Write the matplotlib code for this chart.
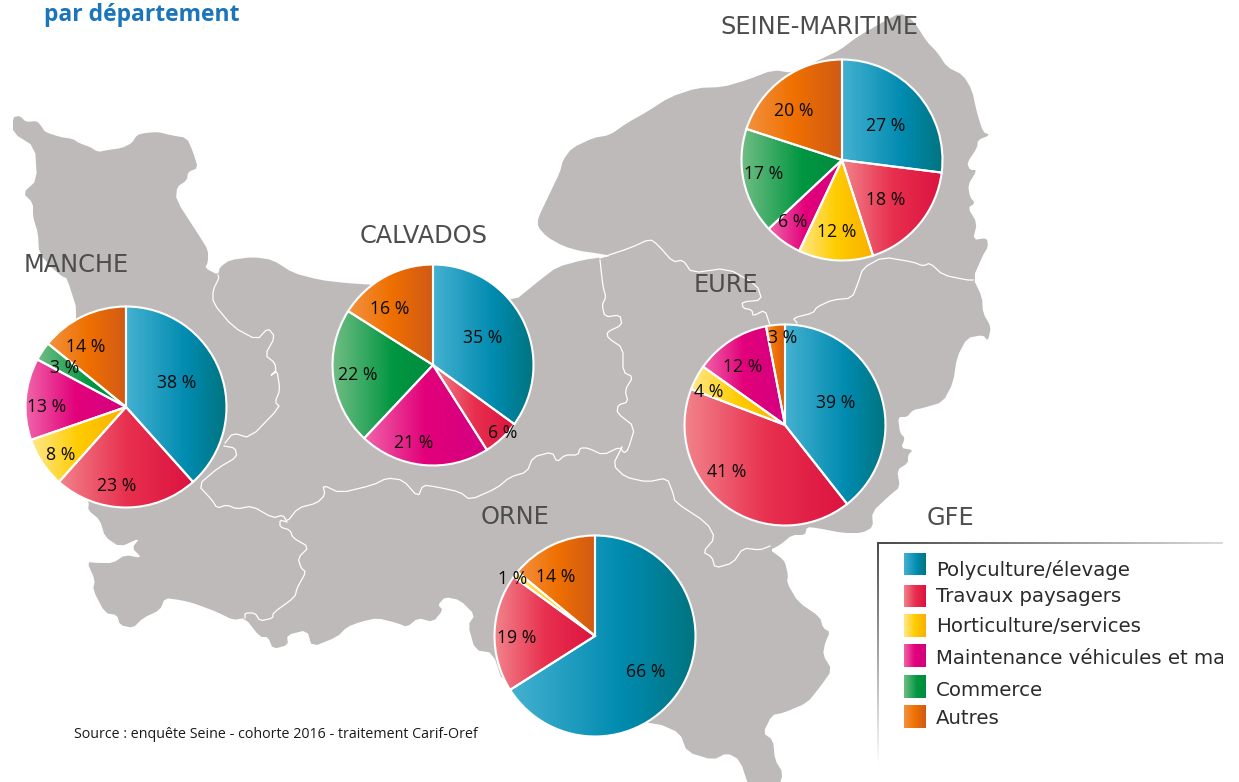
import numpy as np
import matplotlib
matplotlib.use("Agg")
import matplotlib.pyplot as plt
from matplotlib.colors import LinearSegmentedColormap
from matplotlib.transforms import Bbox, TransformedBbox

W, H = 1239, 782
FONT = "Open Sans"
WIDE = "DejaVu Sans"

# ---------- data ----------
categories = ["Polyculture/élevage", "Travaux paysagers", "Horticulture/services",
              "Maintenance véhicules et matériels", "Commerce", "Autres"]
manche = [38, 23, 8, 13, 3, 14]
calvados = [35, 6, 0, 21, 22, 16]
seine_maritime = [27, 18, 12, 6, 17, 20]
eure = [39, 41, 4, 12, 0, 3]
orne = [66, 19, 1, 0, 0, 14]
dept_names = ["MANCHE", "CALVADOS", "SEINE-MARITIME", "EURE", "ORNE"]
dept_values = [manche, calvados, seine_maritime, eure, orne]

# ---------- layout ----------
pie_centers = [(126, 407), (433, 365), (842, 160), (785, 425), (595, 636)]
pie_radius = 100.5
name_pos = [(76, 265), (424, 236), (819.5, 27), (726, 285), (515, 517)]
label_pos = [
    [(177, 383), (117, 486), (61, 455), (47, 407), (65, 368), (86, 347)],
    [(483, 338), (503, 433), (414, 443), (358, 375), (390, 309)],
    [(886, 126), (886, 200), (837, 232), (793, 222), (764, 174), (794, 111)],
    [(836, 403), (727, 472), (709, 392), (743, 367), (783, 338)],
    [(646, 672), (517, 638), (513, 579), (556, 577)],
]
gradients = [
    [(0, "#45b1d1"), (0.6, "#008bb0"), (1, "#00747f")],
    [(0, "#f2838a"), (0.5, "#e8304f"), (1, "#dc1240")],
    [(0, "#ffe88a"), (0.5, "#ffcc00"), (1, "#f9b000")],
    [(0, "#f064a9"), (0.5, "#e2007a"), (1, "#d40080")],
    [(0, "#70bd84"), (0.6, "#009640"), (1, "#008c40")],
    [(0, "#f39240"), (0.5, "#ef7000"), (1, "#d05a16")],
]
cmaps = [LinearSegmentedColormap.from_list(f"g{i}", g) for i, g in enumerate(gradients)]
swatch_y = [(553, 575), (585, 607), (614, 637), (644, 667), (675, 698), (705, 728)]
legend_text_y = [570, 597, 626, 659, 690, 719]

map_outline = [
    (13, 117), (20, 116), (26, 122), (37, 121), (42, 127), (45, 132), (60, 137), (73, 139), (79, 143),
    (90, 147), (98, 152), (108, 150), (122, 148), (132, 143), (137, 135), (145, 133), (158, 132),
    (170, 135), (187, 138), (193, 152), (198, 168), (188, 172), (187, 180), (177, 187), (176, 200),
    (200, 237), (208, 250), (208, 262), (205, 268), (218, 275), (220, 267), (230, 260), (253, 257),
    (273, 260), (293, 273), (320, 280), (345, 283), (375, 285), (440, 300), (513, 302), (540, 280),
    (557, 267), (583, 260), (597, 258), (612, 256), (595, 253), (580, 251), (563, 246), (547, 237),
    (538, 227), (538, 218), (550, 193), (560, 172), (563, 160), (572, 148), (593, 138), (610, 135),
    (627, 123), (645, 113), (670, 97), (697, 88), (723, 87), (747, 80), (773, 70), (793, 73), (823, 58),
    (840, 50), (857, 37), (883, 22), (900, 13), (913, 20), (927, 42), (937, 52), (947, 67), (963, 75),
    (972, 90), (977, 113), (983, 132), (990, 135), (978, 140), (977, 148), (967, 163), (970, 170),
    (977, 170), (968, 185), (970, 197), (975, 203), (968, 208), (977, 223), (973, 240), (987, 238),
    (988, 247), (983, 255), (973, 278), (982, 297), (983, 313), (991, 327), (988, 341), (983, 335),
    (967, 338), (957, 357), (953, 383), (943, 402), (923, 408), (913, 410), (907, 417), (898, 417),
    (900, 433), (905, 438), (901, 448), (913, 450), (908, 455), (908, 463), (897, 470), (900, 487),
    (890, 495), (872, 512), (873, 527), (862, 533), (843, 533), (817, 528), (807, 527), (805, 535),
    (792, 535), (780, 545), (770, 550), (780, 557), (785, 562), (788, 575), (787, 583), (798, 602),
    (820, 617), (823, 628), (830, 632), (825, 643), (823, 655), (832, 670), (820, 687), (807, 703),
    (783, 713), (772, 715), (763, 733), (773, 740), (775, 760), (783, 773), (778, 790), (750, 790),
    (740, 760), (727, 753), (713, 760), (687, 752), (680, 733), (657, 723), (600, 720), (503, 683),
    (493, 653), (475, 650), (468, 625), (475, 615), (460, 600), (445, 597), (438, 605), (443, 610),
    (433, 622), (418, 618), (407, 627), (397, 623), (377, 618), (360, 622), (347, 627), (337, 637),
    (312, 647), (307, 630), (287, 635), (288, 645), (273, 649), (268, 637), (260, 637), (245, 618),
    (233, 620), (217, 612), (193, 603), (180, 600), (165, 598), (160, 610), (143, 618), (133, 628),
    (120, 625), (117, 615), (105, 613), (93, 590), (95, 580), (87, 562), (98, 563), (113, 563),
    (125, 555), (142, 558), (132, 548), (140, 538), (120, 547), (105, 537), (100, 520), (88, 510),
    (89, 503), (70, 420), (78, 313), (67, 278), (63, 277), (52, 268), (39, 253), (38, 233), (33, 217),
    (33, 203), (23, 193), (37, 180), (35, 147), (13, 133),
]
borders = [
    [(600, 258), (630, 248), (650, 239), (658, 245), (673, 262), (683, 260), (692, 273), (727, 268),
     (757, 285), (762, 300), (742, 302), (743, 308), (752, 310), (753, 316), (765, 310), (770, 325)],
    [(797, 323), (793, 318), (813, 313), (817, 307), (832, 300), (852, 298), (858, 283), (863, 268),
     (883, 257), (913, 262), (923, 266), (930, 263), (943, 275), (967, 280), (973, 280)],
    [(600, 260), (603, 287), (606, 297), (602, 305), (605, 317), (620, 315), (622, 325), (607, 332),
     (608, 338), (623, 348), (623, 372), (633, 377), (625, 390), (628, 402), (618, 405), (617, 413),
     (635, 427), (628, 450), (624, 453), (620, 447), (603, 455), (588, 448), (580, 448), (578, 455),
     (565, 455), (557, 462), (552, 452), (533, 457), (527, 472), (510, 477), (497, 488), (470, 500),
     (460, 492), (437, 487), (423, 485), (418, 497), (403, 480), (387, 478), (373, 485), (340, 493),
     (323, 485), (325, 495), (317, 503), (298, 508), (287, 522), (283, 515), (273, 518), (252, 506),
     (237, 509), (227, 505), (217, 508), (212, 500), (198, 485), (218, 468), (237, 457), (235, 448),
     (224, 446)],
    [(225, 443), (233, 433), (250, 438), (280, 407), (275, 402), (280, 390), (277, 370), (270, 376),
     (276, 372), (275, 363), (265, 355), (275, 337), (268, 328), (257, 340), (233, 327), (213, 303),
     (213, 290), (219, 278), (218, 275)],
    [(287, 522), (280, 520), (280, 527), (290, 530), (293, 538), (309, 547), (298, 558), (301, 568),
     (306, 572), (297, 588), (295, 597), (273, 613), (273, 618), (260, 621), (255, 613), (245, 613),
     (245, 618)],
    [(622, 447), (613, 465), (625, 477), (647, 482), (667, 478), (673, 493), (675, 502), (707, 523),
     (715, 538), (703, 552), (712, 557), (715, 568), (733, 563), (743, 548), (760, 550), (770, 546)],
]


def fy(y):
    return H - y


def chaikin(points, closed=False, rounds=1):
    """Round the corners of a traced coastline or boundary."""
    p = np.asarray(points, float)
    for _ in range(rounds):
        a = p if closed else p[:-1]
        b = np.roll(p, -1, axis=0) if closed else p[1:]
        q = np.empty((2 * len(a), 2))
        q[0::2] = 0.8 * a + 0.2 * b
        q[1::2] = 0.2 * a + 0.8 * b
        p = q if closed else np.vstack([p[0], q, p[-1]])
    return p


fig = plt.figure(figsize=(W / 100, H / 100), dpi=100, facecolor="white")
ax = fig.add_axes([0, 0, 1, 1])

# ---------- map ----------
o = chaikin(map_outline, closed=True)
ax.fill(o[:, 0], fy(o[:, 1]), color="#bdbab9", lw=0, zorder=1)
for line in borders:
    b = chaikin(line)
    ax.plot(b[:, 0], fy(b[:, 1]), color="white", lw=0.9, solid_joinstyle="round", zorder=2)

ramp = np.linspace(0, 1, 256).reshape(1, -1)

# ---------- pies ----------
for name, values, center, npos, lpos in zip(dept_names, dept_values, pie_centers, name_pos, label_pos):
    idx = [i for i, v in enumerate(values) if v > 0]
    vals = [values[i] for i in idx]
    wedges, _ = ax.pie(vals, startangle=90, counterclock=False, radius=pie_radius,
                       center=(center[0], fy(center[1])), frame=True,
                       wedgeprops=dict(facecolor="none", edgecolor="white", linewidth=1.5, zorder=4))
    for w, i, v, p in zip(wedges, idx, vals, lpos):
        e = w.get_path().get_extents()
        im = ax.imshow(ramp, cmap=cmaps[i], extent=(e.x0, e.x1, e.y0, e.y1), aspect="auto", zorder=3)
        im.set_clip_path(w)
        ax.text(p[0], fy(p[1]), f"{v} %", ha="center", va="center", fontsize=12.7,
                family=FONT, color="#0a0a0a", zorder=6)
    ax.text(npos[0], fy(npos[1]), name, ha="center", va="center", fontsize=17.3,
            family=WIDE, color="#4d4d4d", zorder=6)

# ---------- legend ----------
ax.text(950, fy(518), "GFE", ha="center", va="center", fontsize=17.3, family=WIDE, color="#4d4d4d", zorder=6)
for cat, cm, (y0, y1), ty in zip(categories, cmaps, swatch_y, legend_text_y):
    ax.imshow(ramp, cmap=cm, extent=(904, 926, fy(y1), fy(y0)), aspect="auto", zorder=5)
    t = ax.text(936, fy(ty), cat, ha="left", va="center", fontsize=14.2, family=WIDE, color="#2b2b2b", zorder=6)
    t.set_clip_box(TransformedBbox(Bbox([[930, 0], [1223, H]]), ax.transData))
    t.set_clip_on(True)

rgba_h = np.zeros((1, 256, 4))
rgba_h[..., :3] = 0.29
rgba_h[0, :, 3] = np.linspace(1, 0.2, 256)
ax.imshow(rgba_h, extent=(877, 1223, fy(544), fy(542)), aspect="auto", zorder=5)
rgba_v = np.zeros((256, 1, 4))
rgba_v[..., :3] = 0.29
rgba_v[:, 0, 3] = np.linspace(1, 0, 256)
ax.imshow(rgba_v, extent=(877, 879, fy(765), fy(542)), aspect="auto", zorder=5)

# ---------- texts ----------
ax.text(44, fy(15), "par département", ha="left", va="center", fontsize=16.5, fontweight="bold",
        family=FONT, color="#1a75bb", zorder=6)
ax.text(74, fy(735), "Source : enquête Seine - cohorte 2016 - traitement Carif-Oref", ha="left", va="center",
        fontsize=10.25, family=FONT, color="#1a1a1a", zorder=6)

ax.set_xlim(0, W)
ax.set_ylim(0, H)
ax.set_aspect("auto")
ax.axis("off")
fig.savefig("out.png", dpi=100)
